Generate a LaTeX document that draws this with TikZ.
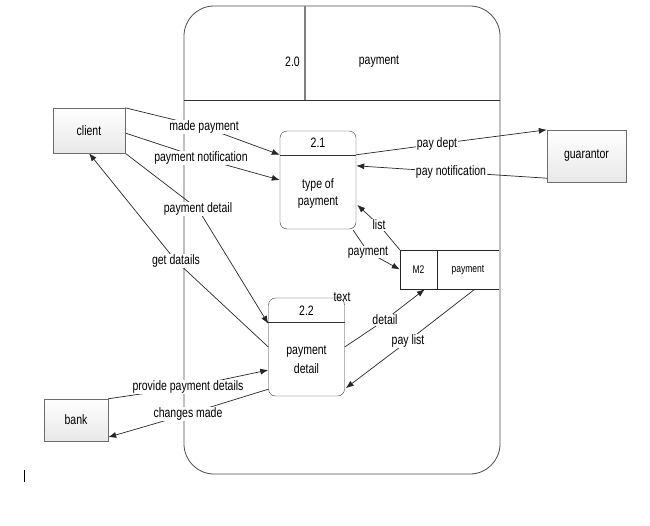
\documentclass[tikz,border=0pt]{standalone}
\usepackage{fontspec}
\usepackage{graphicx}
\setmainfont{Liberation Sans}
\usetikzlibrary{calc,arrows.meta,backgrounds}
\newcommand{\tl}[1]{\scalebox{1}[1.3]{#1}}
\tikzset{
  ent/.style={draw=gray!85!black, top color=white, bottom color=gray!18, minimum width=#1, inner sep=0pt, font=\fontsize{10.5}{12}\selectfont},
  proc/.style={draw=black!80, rounded corners=7pt, minimum width=76pt, minimum height=98pt, inner sep=0pt},
  lbl/.style={fill=white, inner sep=0.5pt, font=\fontsize{10.5}{12}\selectfont},
  txt/.style={inner sep=0pt, font=\fontsize{10.5}{12}\selectfont},
  small/.style={inner sep=0pt, font=\fontsize{8.5}{10}\selectfont},
  flow/.style={draw=black!85, line width=0.7pt},
  arr/.style={flow, -{Latex[length=8pt,width=6pt]}}
}
\begin{document}
\begin{tikzpicture}[x=1pt,y=-1pt]
\useasboundingbox (0,0) rectangle (650,525);
% outer process box
\begin{scope}[on background layer]
\draw[black!70, line width=0.8pt, rounded corners=30pt] (184,6) rectangle (500,474);
\draw[black!80, line width=0.8pt] (184,100) -- (500,100);
\draw[gray, line width=1.2pt] (305,6) -- (305,100);
\end{scope}
\node[txt, anchor=east] (num) at (300,62) {\tl{2.0}};
\node[txt] (title) at (379,62) {\tl{payment}};

% external entities
\node[ent=72pt, minimum height=45pt] (client) at (89,130.5) {\tl{client}};
\node[ent=79pt, minimum height=52pt] (guar) at (586.5,156) {\tl{guarantor}};
\node[ent=64pt, minimum height=42pt] (bank) at (76,420) {\tl{bank}};

% processes
\node[proc] (p1) at (318,180) {};
\draw[black!80] ($(p1.north west)+(0,24)$) -- ($(p1.north east)+(0,24)$);
\node[txt] (p1n) at (318,143) {\tl{2.1}};
\node[txt, align=center] (p1t) at (318,193) {\tl{type of}\\[5pt]\tl{payment}};

\node[proc] (p2) at (306.5,347) {};
\draw[black!80] ($(p2.north west)+(0,24)$) -- ($(p2.north east)+(0,24)$);
\node[txt] (p2n) at (306.5,311) {\tl{2.2}};
\node[txt, align=center] (p2t) at (306.5,360) {\tl{payment}\\[5pt]\tl{detail}};
\node[txt] (tx) at (342,297) {\tl{text}};

% data store
\node[minimum width=99pt, minimum height=39pt, inner sep=0pt] (ms) at (449.5,269.5) {};
\draw[black!85] (ms.north east) -- (ms.north west) -- (ms.south west) -- (ms.south east);
\draw[black!85] ($(ms.north west)+(37,0)$) -- ($(ms.south west)+(37,0)$);
\node[small] (msid) at (418.5,270) {\tl{M2}};
\node[small] (msn) at (468,270) {\tl{payment}};

% labels
\node[lbl] (l1) at (204,127) {\tl{made payment}};
\node[lbl] (l2) at (201,158) {\tl{payment notification}};
\node[lbl] (l3) at (198,209) {\tl{payment detail}};
\node[lbl] (l4) at (176,261) {\tl{get datails}};
\node[lbl] (l5) at (437,144) {\tl{pay dept}};
\node[lbl] (l6) at (451,172) {\tl{pay notification}};
\node[lbl] (l7) at (379,225) {\tl{list}};
\node[lbl] (l8) at (368,252) {\tl{payment}};
\node[lbl] (l9) at (385,320) {\tl{detail}};
\node[lbl] (l10) at (408,341) {\tl{pay list}};
\node[lbl] (l11) at (188,387) {\tl{provide payment details}};
\node[lbl] (l12) at (188,414) {\tl{changes made}};

% flows
\begin{scope}[on background layer]
\draw[arr] (client.north east) -- (l1.center) -- ($(p1.north west)+(0,24)$);
\draw[arr] ($(client.east)+(0,2.5)$) -- (l2.center) -- (p1.west);
\draw[arr] (client.south east) -- (l3.center) -- ($(p2.north west)+(0,26)$);
\draw[arr] (p2.west) -- (l4.center) -- (client.south);
\draw[arr] ($(p1.north east)+(0,24)$) -- (l5.center) -- (guar.north west);
\draw[arr] ($(guar.south west)+(0,-4)$) -- (l6.center) -- ($(p1.north east)+(0,35)$);
\draw[arr] (ms.north west) -- (l7.center) -- ($(p1.north east)+(1,74)$);
\draw[arr] ($(p1.south east)+(-3,1)$) -- (l8.center) -- (ms.west);
\draw[arr] (p2.east) -- (l9.center) -- ($(ms.south west)+(25,0)$);
\draw[arr] ($(ms.south west)+(75,0)$) -- (l10.center) -- ($(p2.south east)+(1,-8)$);
\draw[arr] (bank.north east) -- (l11.center) -- ($(p2.west)+(0,23)$);
\draw[arr] ($(p2.south west)+(0,-7)$) -- (l12.center) -- ($(bank.south east)+(0,-4)$);
\end{scope}

% text cursor mark
\draw[black, line width=0.8pt] (24,470) -- (24,482);
\end{tikzpicture}
\end{document}
